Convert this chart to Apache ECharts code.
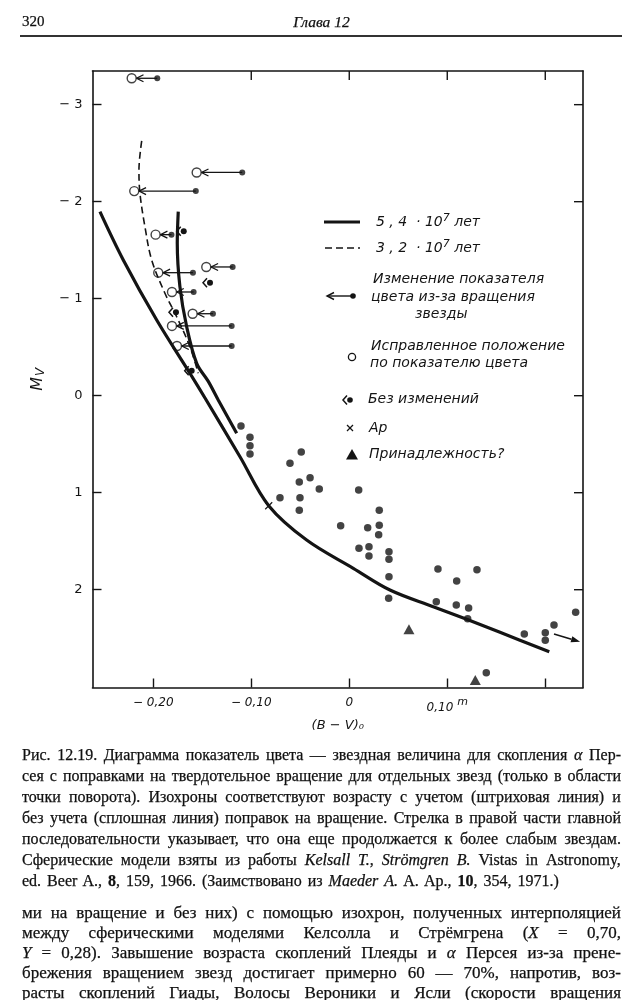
<!DOCTYPE html>
<html><head><meta charset="utf-8">
<script src="https://cdn.jsdelivr.net/npm/echarts@6/dist/echarts.min.js"></script>
<style>
html,body{margin:0;padding:0;background:#fff;}
#chart{position:absolute;left:0;top:0;width:643px;height:1000px;}
.t{position:absolute;color:#111;font-family:"Liberation Serif",serif;white-space:nowrap;z-index:2;-webkit-text-stroke:0.25px #111;}
.j{display:flex;justify-content:space-between;}
</style></head>
<body>
<div id="chart"></div>
<div class="t" style="left:22px;top:11px;font-size:15px;line-height:20px;">320</div>
<div class="t" style="left:0;width:643px;text-align:center;top:12px;font-size:15.5px;line-height:20px;font-style:italic;">Глава 12</div>
<div class="t" style="left:20px;top:35px;width:602px;height:1.5px;background:#333;"></div>
<div id="txt"></div>
<script>
// ---------- data ----------
// isochrone 5.4e7 yr (solid): main sequence branch
const isoSolidMain = [[-0.2544,-1.897],[-0.2306,-1.399],[-0.1965,-0.780],[-0.1626,-0.231],[-0.1472,0.024],[-0.1115,0.629],[-0.0822,1.134],[-0.0435,1.488],[0.0041,1.779],[0.0415,2.003],[0.0857,2.175],[0.1198,2.305],[0.1538,2.439],[0.2041,2.639]];
// isochrone 5.4e7 yr (solid): turn-off branch
const isoSolidHook = [[-0.1745,-1.897],[-0.1755,-1.571],[-0.1728,-1.124],[-0.1659,-0.711],[-0.1557,-0.334],[-0.1440,-0.150],[-0.1337,0.044],[-0.1149,0.388]];
// isochrone 3.2e7 yr (dashed)
const isoDashed = [[-0.2118,-2.626],[-0.2146,-2.327],[-0.2136,-2.087],[-0.2085,-1.742],[-0.2016,-1.399],[-0.1881,-1.056],[-0.1761,-0.814],[-0.1626,-0.505],[-0.1541,-0.231]];
// cluster members (filled dots)
const starsBV = [-0.1105,-0.1013,-0.1013,-0.1013,-0.0605,-0.049,-0.051,-0.040,-0.0306,-0.0707,-0.0503,-0.051,-0.0088,0.0096,0.0188,0.0306,0.0306,0.030,0.0099,0.0201,0.0201,0.0405,0.0405,0.0405,0.0402,0.0905,0.0888,0.1096,0.1092,0.1218,0.1208,0.1303,0.1786,0.200,0.200,0.2089,0.231,0.1398];
const starsMV = [0.312,0.429,0.515,0.601,0.697,0.580,0.890,0.845,0.962,1.052,1.052,1.181,1.340,0.972,1.361,1.181,1.336,1.433,1.573,1.557,1.653,1.608,1.687,1.866,2.089,1.787,2.124,1.910,2.158,2.189,2.299,1.794,2.457,2.443,2.522,2.364,2.233,2.856];
// rotating stars: observed colour, corrected colour, magnitude
const rotObsBV  = [-0.1959,-0.1092,-0.1566,-0.1814,-0.1190,-0.1595,-0.1588,-0.1391,-0.1200,-0.1200];
const rotCorrBV = [-0.2220,-0.1557,-0.2194,-0.1976,-0.1459,-0.1949,-0.1809,-0.1598,-0.1809,-0.1758];
const rotMV     = [-3.272,-2.301,-2.109,-1.660,-1.327,-1.268,-1.069,-0.845,-0.719,-0.512];
// stars without change
const noChangeBV = [-0.1689,-0.1421,-0.1768,-0.1608];
const noChangeMV = [-1.695,-1.165,-0.860,-0.258];
// Ap star
const apBV = [-0.0822];
const apMV = [1.134];
// doubtful membership (triangles)
const doubtBV = [0.0609,0.1286];
const doubtMV = [2.408,2.931];
// arrow: main sequence continues
const tailArrow = [[0.2089,2.457,0.2355,2.537]];
// axis ranges and ticks
const xRange = [-0.262, 0.2385];
const yRange = [-3.347, 3.008];
const xTickValues = [-0.2,-0.1,0,0.1,0.2];
const xTopTickValues = [-0.1,0,0.1,0.2];
const xLabelValues = [-0.2,-0.1,0,0.1];
const yTickValues = [-3,-2,-1,0,1,2];
const yRightTickValues = [-3,-2,0,1,2];

const captionLines = [
 'Рис. 12.19. Диаграмма показатель цвета — звездная величина для скопления <i>α</i> Пер-',
 'сея с поправками на твердотельное вращение для отдельных звезд (только в области',
 'точки поворота). Изохроны соответствуют возрасту с учетом (штриховая линия) и',
 'без учета (сплошная линия) поправок на вращение. Стрелка в правой части главной',
 'последовательности указывает, что она еще продолжается к более слабым звездам.',
 'Сферические модели взяты из работы <i>Kelsall</i> <i>T.</i>, <i>Strömgren</i> <i>B.</i> Vistas in Astronomy,',
 'ed. Beer A., <b>8</b>, 159, 1966. (Заимствовано из <i>Maeder</i> <i>A.</i> A. Ap., <b>10</b>, 354, 1971.)'
];
const bodyLines = [
 'ми на вращение и без них) с помощью изохрон, полученных интерполяцией',
 'между сферическими моделями Келсолла и Стрёмгрена (<i>X</i> = 0,70,',
 '<i>Y</i> = 0,28). Завышение возраста скоплений Плеяды и <i>α</i> Персея из-за прене-',
 'брежения вращением звезд достигает примерно 60 — 70%, напротив, воз-',
 'расты скоплений Гиады, Волосы Вероники и Ясли (скорости вращения'
];

// ---------- page text ----------
const txt = document.getElementById('txt');
function addLine(html, centerY, size, justify){
  const d = document.createElement('div');
  d.className = 't' + (justify ? ' j' : '');
  d.style.left = '22px';
  d.style.top = (centerY - 10.5) + 'px';
  d.style.lineHeight = '21px';
  d.style.fontSize = size + 'px';
  if (justify) {
    d.style.width = '599px';
    d.innerHTML = html.split(' ').map(w => '<span>' + w + '</span>').join('');
  } else {
    d.style.wordSpacing = '2px';
    d.innerHTML = html;
  }
  txt.appendChild(d);
}
captionLines.forEach((l, i) => addLine(l, 754 + i * 21, 16, i < captionLines.length - 1));
bodyLines.forEach((l, i) => addLine(l, 912 + i * 20.2, 17, true));

// ---------- chart ----------
const INK = '#141414';
const chart = echarts.init(document.getElementById('chart'), null, {renderer: 'canvas'});
const italic = {fontFamily: 'DejaVu Sans', fontStyle: 'italic', color: INK};

function fmtX(v){
  const r = Math.round(v * 100) / 100;
  if (r === 0) return '{n|0}';
  const s = Math.abs(r).toFixed(2).replace('.', ',');
  if (r < 0) return '{n|− ' + s + '}';
  return '{n|' + s + '}{s|m}';
}
function fmtY(v){ return v < 0 ? '− ' + (-v) : String(v); }

const rotData = rotObsBV.map((b, i) => [b, rotCorrBV[i], rotMV[i]]);
const zip = (a, b) => a.map((v, i) => [v, b[i]]);
const axisLine = {show: true, onZero: false, lineStyle: {color: INK, width: 1.6}};
const TICK = 9;

chart.setOption({
  animation: false,
  backgroundColor: '#fff',
  grid: {left: 92.5, top: 71, width: 490.5, height: 616.5, outerBoundsMode: 'none'},
  xAxis: [{
    type: 'value', position: 'bottom', min: xRange[0], max: xRange[1],
    axisLine: axisLine,
    axisTick: {show: true, inside: true, length: TICK, customValues: xTickValues, lineStyle: {color: INK, width: 1.4}},
    axisLabel: {customValues: xLabelValues, formatter: fmtX, margin: 9,
      rich: {n: Object.assign({fontSize: 12}, italic), s: Object.assign({fontSize: 11, padding: [0, 0, 12, 4]}, italic)}},
    splitLine: {show: false},
    name: '(B − V)₀', nameLocation: 'middle', nameGap: 31,
    nameTextStyle: Object.assign({fontSize: 13}, italic)
  }, {
    type: 'value', position: 'top', min: xRange[0], max: xRange[1],
    axisLine: axisLine, axisTick: {show: false}, axisLabel: {show: false}, splitLine: {show: false}
  }],
  yAxis: [{
    type: 'value', position: 'left', inverse: true, min: yRange[0], max: yRange[1],
    axisLine: axisLine,
    axisTick: {show: true, inside: true, length: TICK, customValues: yTickValues, lineStyle: {color: INK, width: 1.4}},
    axisLabel: {customValues: yTickValues, formatter: fmtY, margin: 10, fontSize: 13, fontFamily: 'DejaVu Sans', color: INK},
    splitLine: {show: false},
    name: '{m|M}{v|V}', nameLocation: 'middle', nameGap: 46, nameRotate: 90,
    nameTextStyle: {rich: {m: Object.assign({fontSize: 16}, italic), v: Object.assign({fontSize: 12, padding: [6, 0, 0, 1]}, italic)}}
  }, {
    type: 'value', position: 'right', inverse: true, min: yRange[0], max: yRange[1],
    axisLine: axisLine, axisTick: {show: false}, axisLabel: {show: false}, splitLine: {show: false}
  }],
  series: [
    // frame ticks on the top edge (drawn through the x scale)
    {name: 'top ticks', type: 'custom', data: xTopTickValues.map(v => [v, yRange[0]]), silent: true, clip: false,
      renderItem: function(params, api){
        const p = api.coord([api.value(0), api.value(1)]);
        return {type: 'line', shape: {x1: p[0], y1: p[1], x2: p[0], y2: p[1] + TICK}, style: {stroke: INK, lineWidth: 1.4}};
      }},
    // frame ticks on the right edge (drawn through the y scale)
    {name: 'right ticks', type: 'custom', data: yRightTickValues.map(v => [xRange[1], v]), silent: true, clip: false,
      renderItem: function(params, api){
        const p = api.coord([api.value(0), api.value(1)]);
        return {type: 'line', shape: {x1: p[0], y1: p[1], x2: p[0] - TICK, y2: p[1]}, style: {stroke: INK, lineWidth: 1.4}};
      }},
    {name: '5,4·10⁷ лет', type: 'line', data: isoSolidMain, smooth: 0.35, showSymbol: false, silent: true,
      lineStyle: {color: INK, width: 3.2}},
    {name: '5,4·10⁷ лет (поворот)', type: 'line', data: isoSolidHook, smooth: 0.35, showSymbol: false, silent: true,
      lineStyle: {color: INK, width: 3.2}},
    {name: '3,2·10⁷ лет', type: 'line', data: isoDashed, smooth: 0.35, showSymbol: false, silent: true,
      lineStyle: {color: INK, width: 1.6, type: [7, 4]}},
    {name: 'Звезды', type: 'scatter', data: zip(starsBV, starsMV), symbol: 'circle', symbolSize: 7.5,
      itemStyle: {color: INK}, silent: true},
    {name: 'Изменение показателя', type: 'custom', data: rotData, encode: {x: [0, 1], y: 2}, silent: true,
      renderItem: function(params, api){
        const p1 = api.coord([api.value(0), api.value(2)]);
        const p2 = api.coord([api.value(1), api.value(2)]);
        const tip = p2[0] + 4.8;
        return {type: 'group', children: [
          {type: 'line', shape: {x1: p1[0], y1: p1[1], x2: tip, y2: p2[1]}, style: {stroke: INK, lineWidth: 1.3}},
          {type: 'polyline', shape: {points: [[tip + 7, p2[1] - 3.5], [tip, p2[1]], [tip + 7, p2[1] + 3.5]]},
            style: {stroke: INK, lineWidth: 1.3, fill: null}}
        ]};
      }},
    {name: 'Наблюдаемое положение', type: 'scatter', data: zip(rotObsBV, rotMV), symbol: 'circle', symbolSize: 6,
      itemStyle: {color: INK}, silent: true},
    {name: 'Исправленное положение', type: 'scatter', data: zip(rotCorrBV, rotMV), symbol: 'circle', symbolSize: 9,
      itemStyle: {color: '#fff', borderColor: INK, borderWidth: 1.4}, silent: true},
    {name: 'Без изменений', type: 'custom', data: zip(noChangeBV, noChangeMV), silent: true,
      renderItem: function(params, api){
        const p = api.coord([api.value(0), api.value(1)]);
        return {type: 'group', children: [
          {type: 'circle', shape: {cx: p[0], cy: p[1], r: 3}, style: {fill: INK}},
          {type: 'polyline', shape: {points: [[p[0] - 3, p[1] - 4.5], [p[0] - 7, p[1]], [p[0] - 3, p[1] + 4.5]]},
            style: {stroke: INK, lineWidth: 1.5, fill: null}}
        ]};
      }},
    {name: 'Ap', type: 'custom', data: zip(apBV, apMV), silent: true,
      renderItem: function(params, api){
        const p = api.coord([api.value(0), api.value(1)]);
        const r = 3.5;
        return {type: 'group', children: [
          {type: 'line', shape: {x1: p[0] - r, y1: p[1] - r, x2: p[0] + r, y2: p[1] + r}, style: {stroke: INK, lineWidth: 1.2}},
          {type: 'line', shape: {x1: p[0] - r, y1: p[1] + r, x2: p[0] + r, y2: p[1] - r}, style: {stroke: INK, lineWidth: 1.2}}
        ]};
      }},
    {name: 'Принадлежность?', type: 'scatter', data: zip(doubtBV, doubtMV), symbol: 'triangle', symbolSize: [11, 10],
      itemStyle: {color: INK}, silent: true},
    {name: 'Продолжение', type: 'custom', data: tailArrow, encode: {x: [0, 2], y: [1, 3]}, silent: true,
      renderItem: function(params, api){
        const a = api.coord([api.value(0), api.value(1)]);
        const b = api.coord([api.value(2), api.value(3)]);
        const ang = Math.atan2(b[1] - a[1], b[0] - a[0]);
        const L = 9, W = 3.2;
        const bx = b[0] - L * Math.cos(ang), by = b[1] - L * Math.sin(ang);
        const nx = -Math.sin(ang) * W, ny = Math.cos(ang) * W;
        return {type: 'group', children: [
          {type: 'line', shape: {x1: a[0], y1: a[1], x2: bx, y2: by}, style: {stroke: INK, lineWidth: 1.6}},
          {type: 'polygon', shape: {points: [[b[0], b[1]], [bx + nx, by + ny], [bx - nx, by - ny]]}, style: {fill: INK}}
        ]};
      }}
  ],
  graphic: (function(){
    const f = 'italic 14px "DejaVu Sans"';
    const T = (x, y, s) => ({type: 'text', x: x, y: y, style: {text: s, font: f, fill: INK, verticalAlign: 'middle'}});
    const R = (x, y, s) => ({type: 'text', x: x, y: y, style: {text: s, fill: INK, verticalAlign: 'middle',
      rich: {a: {font: f, fill: INK}, s: {font: 'italic 11px "DejaVu Sans"', fill: INK, padding: [0, 0, 8, 0]}}}});
    return [
      {type: 'line', shape: {x1: 324, y1: 222, x2: 360, y2: 222}, style: {stroke: INK, lineWidth: 3.2}},
      R(376, 222, '{a|5 , 4  · 10}{s|7}{a| лет}'),
      {type: 'line', shape: {x1: 325, y1: 248, x2: 360, y2: 248}, style: {stroke: INK, lineWidth: 1.6, lineDash: [7, 4]}},
      R(376, 248, '{a|3 , 2  · 10}{s|7}{a| лет}'),
      {type: 'line', shape: {x1: 327, y1: 296, x2: 353, y2: 296}, style: {stroke: INK, lineWidth: 1.4}},
      {type: 'polyline', shape: {points: [[334, 292.5], [327, 296], [334, 299.5]]}, style: {stroke: INK, lineWidth: 1.4, fill: null}},
      {type: 'circle', shape: {cx: 353, cy: 296, r: 2.8}, style: {fill: INK}},
      T(373, 279, 'Изменение показателя'),
      T(371, 297, 'цвета из-за вращения'),
      T(415, 314, 'звезды'),
      {type: 'circle', shape: {cx: 352, cy: 357, r: 3.6}, style: {fill: '#fff', stroke: INK, lineWidth: 1.3}},
      T(371, 346, 'Исправленное положение'),
      T(370, 363, 'по показателю цвета'),
      {type: 'circle', shape: {cx: 350, cy: 400, r: 2.8}, style: {fill: INK}},
      {type: 'polyline', shape: {points: [[347, 395.5], [343, 400], [347, 404.5]]}, style: {stroke: INK, lineWidth: 1.5, fill: null}},
      T(368, 399, 'Без изменений'),
      {type: 'line', shape: {x1: 347, y1: 425, x2: 353, y2: 431}, style: {stroke: INK, lineWidth: 1.3}},
      {type: 'line', shape: {x1: 347, y1: 431, x2: 353, y2: 425}, style: {stroke: INK, lineWidth: 1.3}},
      T(369, 428, 'Ap'),
      {type: 'polygon', shape: {points: [[352, 449], [346, 459.5], [358, 459.5]]}, style: {fill: INK}},
      T(369, 454, 'Принадлежность?')
    ];
  })()
});
</script>
</body></html>
